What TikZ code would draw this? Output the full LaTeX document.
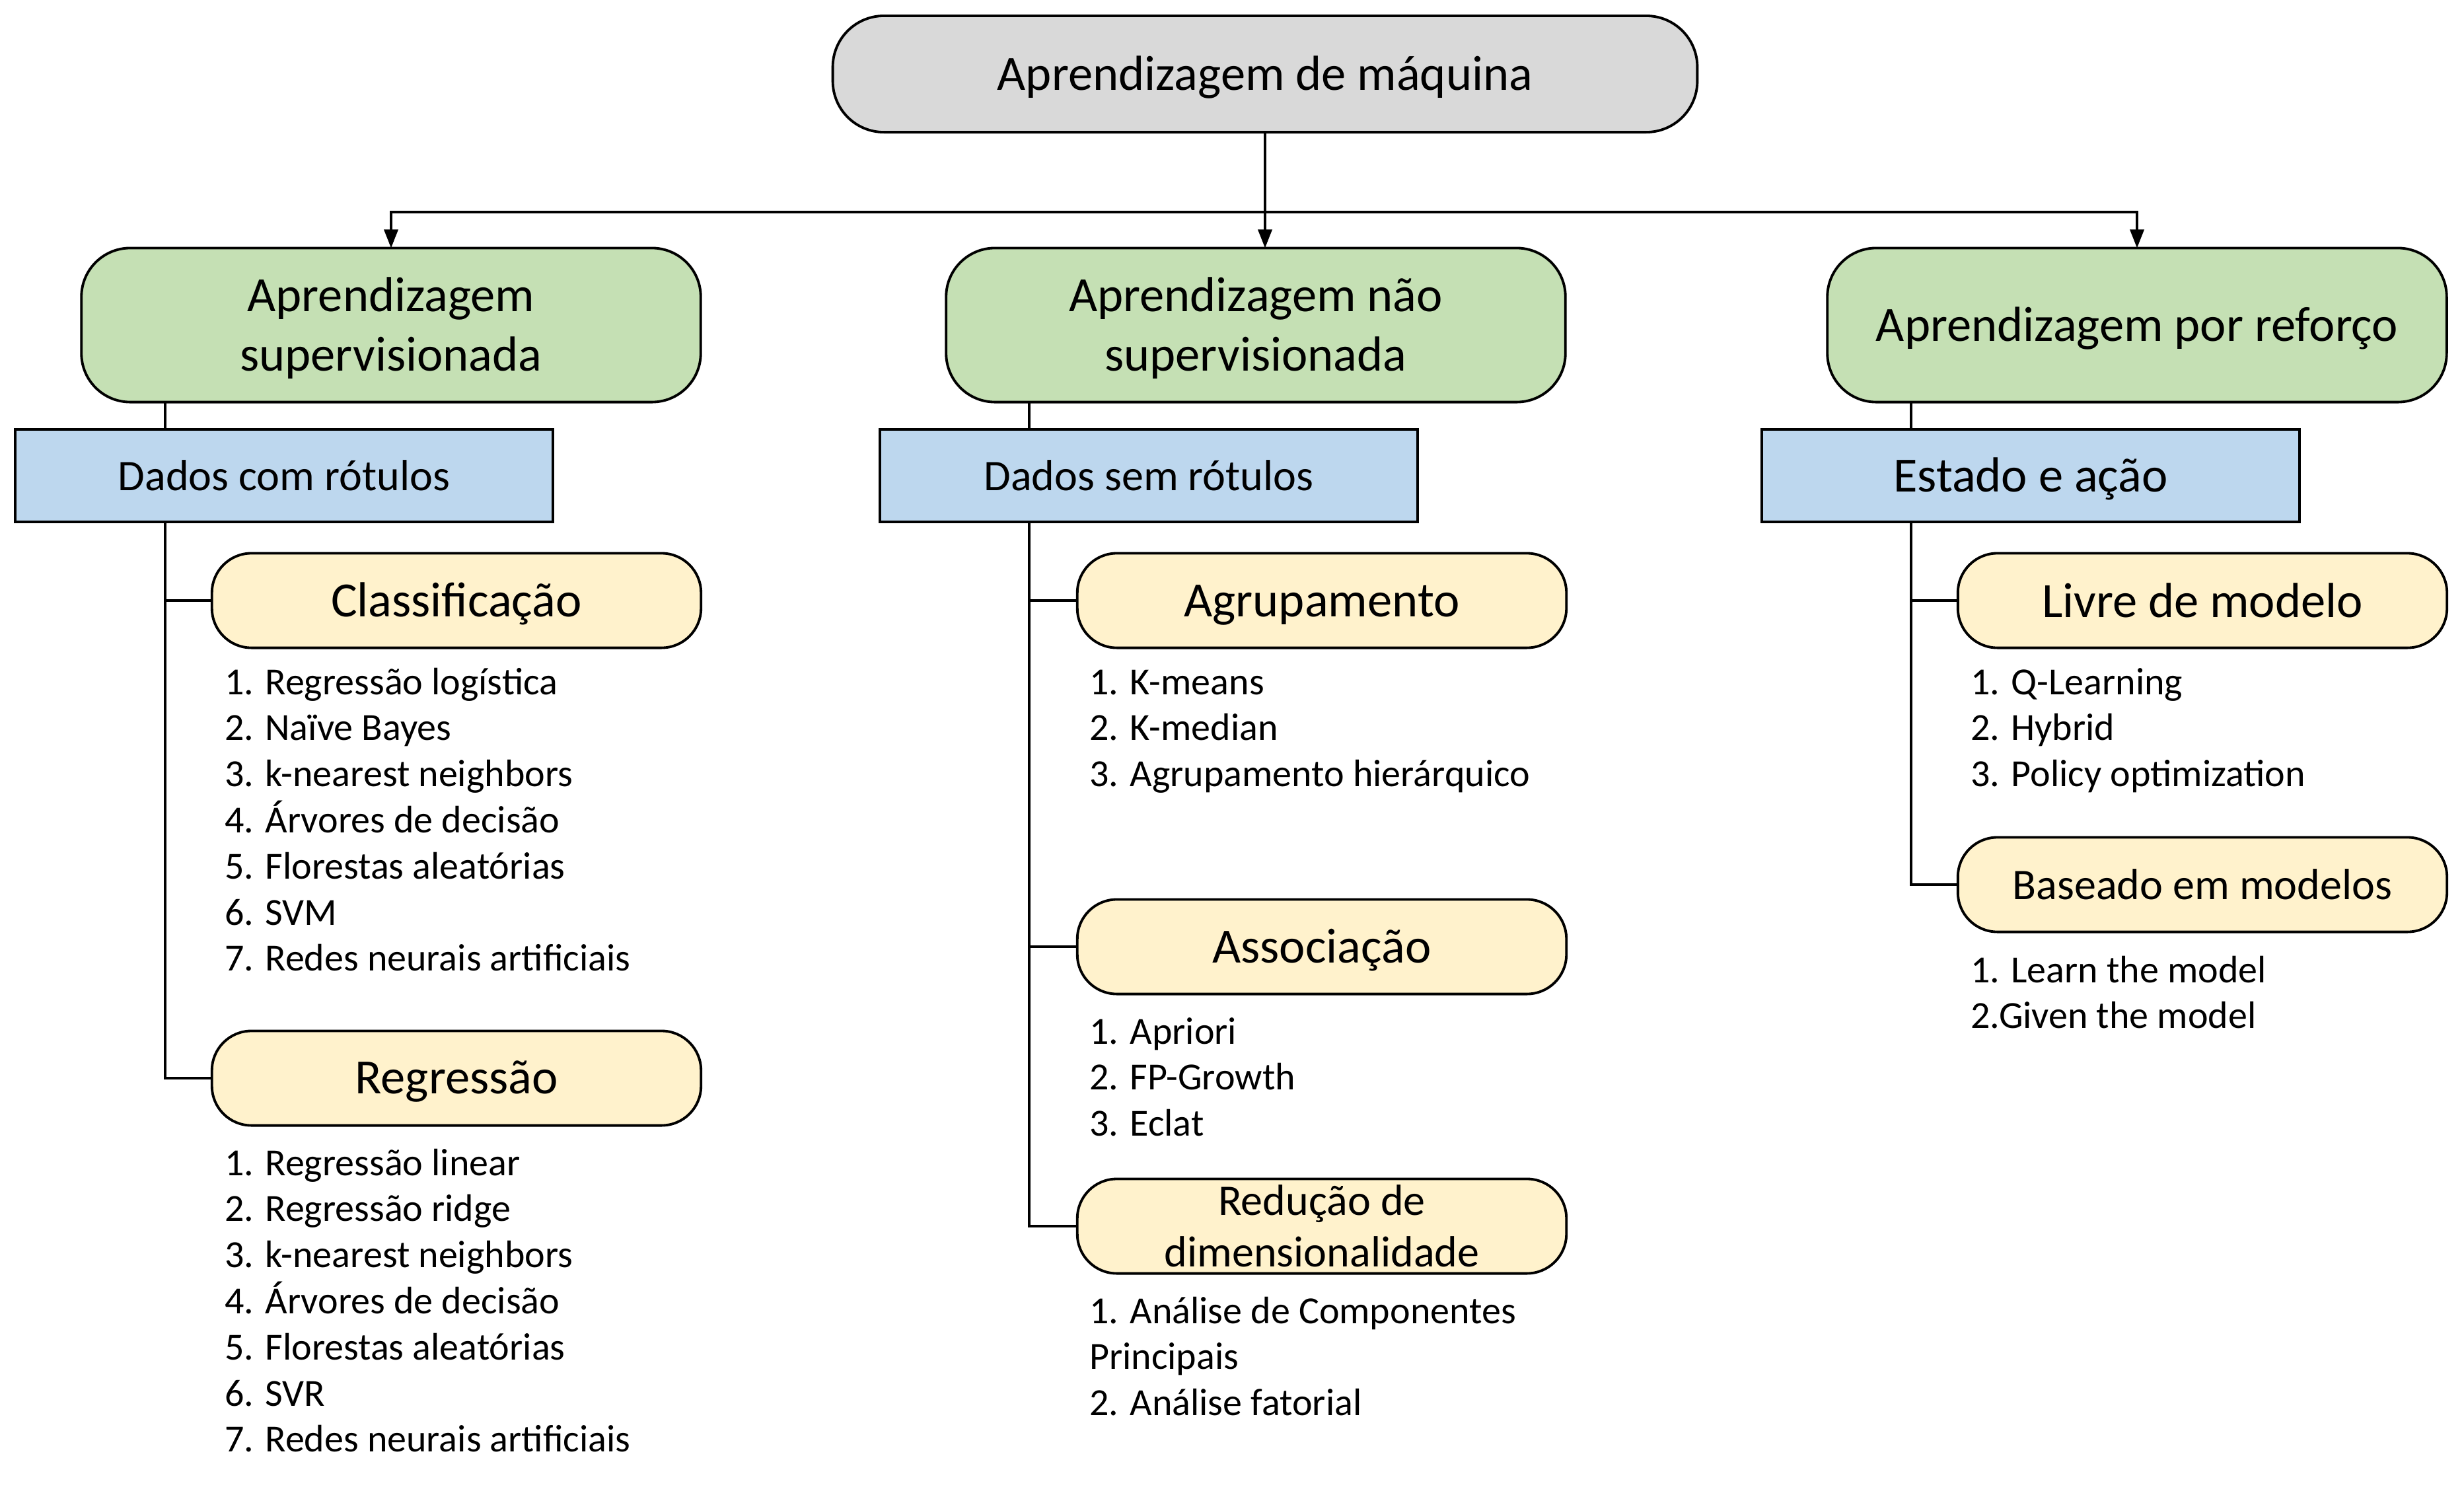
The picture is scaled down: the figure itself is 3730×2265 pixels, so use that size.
\documentclass[tikz,border=0pt]{standalone}
\usepackage{fontspec}
\setmainfont{Carlito}
\usetikzlibrary{arrows.meta}
\definecolor{topgray}{HTML}{D9D9D9}
\definecolor{grn}{HTML}{C5E0B4}
\definecolor{blu}{HTML}{BDD7EE}
\definecolor{yel}{HTML}{FFF2CC}
% lower a single line of text inside its box, keeping the box extents
\newcommand\dropline[2]{\raisebox{-#1}[\height][\depth]{#2}}
% lower a block of centred lines inside its box
\newcommand\dropblock[2]{\raisebox{-#1}[\height][\depth]{\begin{tabular}{@{}c@{}}#2\end{tabular}}}
\begin{document}
\begin{tikzpicture}[x=0.01cm,y=-0.01cm,
 box/.style={draw=black, line width=1.1pt, inner sep=0pt, outer sep=0pt, align=center, text=black},
 topbox/.style={box, fill=topgray, rounded corners=22pt, minimum width=13.08cm, minimum height=1.76cm, font=\fontsize{21.2}{25.6}\selectfont},
 greenbox/.style={box, fill=grn, rounded corners=21pt, minimum width=9.37cm, minimum height=2.33cm, font=\fontsize{21.2}{25.6}\selectfont},
 bluebox/.style={box, fill=blu, minimum width=8.13cm, minimum height=1.40cm, font=\fontsize{18.8}{22.8}\selectfont},
 yelbox/.style={box, fill=yel, rounded corners=17pt, minimum width=7.40cm, minimum height=1.43cm, font=\fontsize{21.2}{25.6}\selectfont},
 item/.style={anchor=base west, inner sep=0pt, outer sep=0pt, font=\fontsize{16.5}{19.9}\selectfont},
 conn/.style={line width=1pt, draw=black},
 arr/.style={conn, -{Triangle[length=8pt,width=6pt]}},
]
\useasboundingbox (0,0) rectangle (3730,2265);

% main nodes
\node[topbox] (top) at (1915,112) {\dropline{1.35pt}{Aprendizagem de máquina}};
\node[greenbox] (gl) at (592,492) {\dropblock{1.9pt}{Aprendizagem\\supervisionada}};
\node[greenbox] (gm) at (1901,492) {\dropblock{1.9pt}{Aprendizagem não\\supervisionada}};
\node[greenbox] (gr) at (3235,492) {\dropline{1.35pt}{Aprendizagem por reforço}};

\node[bluebox] (bl) at (430,720) {Dados com rótulos};
\node[bluebox] (bm) at (1739,720) {Dados sem rótulos};
\node[bluebox, font=\fontsize{21.2}{25.6}\selectfont] (br) at (3074,720) {\dropline{1.35pt}{Estado e ação}};

\node[yelbox] (cla) at (691,909) {\dropline{1.35pt}{Classificação}};
\node[yelbox] (reg) at (691,1632) {\dropline{1.35pt}{Regressão}};
\node[yelbox] (agr) at (2001,909) {\dropline{2pt}{Agrupamento}};
\node[yelbox] (ass) at (2001,1433) {\dropline{1.35pt}{Associação}};
\node[yelbox, font=\fontsize{18.8}{22.3}\selectfont] (red) at (2001,1856) {Redução de\\dimensionalidade};
\node[yelbox] (liv) at (3334,909) {Livre de modelo};
\node[yelbox, font=\fontsize{18.8}{22.8}\selectfont] (bas) at (3334,1339) {Baseado em modelos};

% lists
\foreach \t [count=\i from 0] in {1. Regressão logística, 2. Naïve Bayes, 3. k-nearest neighbors, 4. Árvores de decisão, 5. Florestas aleatórias, 6. SVM, 7. Redes neurais artificiais}
  \node[item] (lc\i) at (340,1051+69.8*\i) {\t};
\foreach \t [count=\i from 0] in {1. Regressão linear, 2. Regressão ridge, 3. k-nearest neighbors, 4. Árvores de decisão, 5. Florestas aleatórias, 6. SVR, 7. Redes neurais artificiais}
  \node[item] (lr\i) at (340,1779+69.8*\i) {\t};
\foreach \t [count=\i from 0] in {1. K-means, 2. K-median, 3. Agrupamento hierárquico}
  \node[item] (la\i) at (1649,1051+69.8*\i) {\t};
\foreach \t [count=\i from 0] in {1. Apriori, 2. FP-Growth, 3. Eclat}
  \node[item] (ls\i) at (1649,1580+69.8*\i) {\t};
\foreach \t [count=\i from 0] in {1. Análise de Componentes, Principais, 2. Análise fatorial}
  \node[item] (ld\i) at (1649,2003+69.8*\i) {\t};
\foreach \t [count=\i from 0] in {1. Q-Learning, 2. Hybrid, 3. Policy optimization}
  \node[item] (lq\i) at (2983,1051+69.8*\i) {\t};
\foreach \t [count=\i from 0] in {1. Learn the model, 2.Given the model}
  \node[item] (lb\i) at (2983,1487+69.8*\i) {\t};

% connectors from the top
\coordinate (j) at (1915,321);
\draw[arr] (top.south) -- (top.south |- gm.north);
\draw[arr] (j) -| (gl.north);
\draw[arr] (j) -| (gr.north);

% trunks
\coordinate (tl) at (250,0);
\coordinate (tm) at (1558,0);
\coordinate (tr) at (2893,0);

\draw[conn] (tl |- gl.south) -- (tl |- bl.north);
\draw[conn] (tl |- bl.south) |- (reg.west);
\draw[conn] (tl |- cla.west) -- (cla.west);

\draw[conn] (tm |- gm.south) -- (tm |- bm.north);
\draw[conn] (tm |- bm.south) |- (red.west);
\draw[conn] (tm |- agr.west) -- (agr.west);
\draw[conn] (tm |- ass.west) -- (ass.west);

\draw[conn] (tr |- gr.south) -- (tr |- br.north);
\draw[conn] (tr |- br.south) |- (bas.west);
\draw[conn] (tr |- liv.west) -- (liv.west);
\end{tikzpicture}
\end{document}
